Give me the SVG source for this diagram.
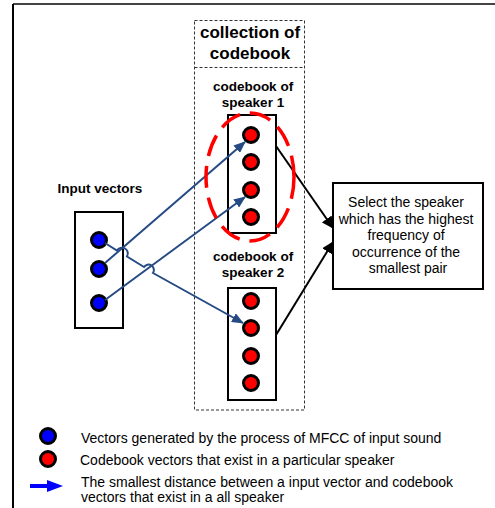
<svg xmlns="http://www.w3.org/2000/svg" width="495" height="508" viewBox="0 0 495 508">
<defs>
<style>
.bold{font-family:"Liberation Sans",Arial,sans-serif;font-weight:bold;fill:#000}
.reg{font-family:"Liberation Sans",Arial,sans-serif;fill:#000}
.box{fill:#fff;stroke:#000;stroke-width:2}
.red{fill:#ff0000;stroke:#000;stroke-width:3}
.blue{fill:#0000ff;stroke:#000;stroke-width:3}
.conn{fill:none;stroke:#254a84;stroke-width:2}
.blk{fill:none;stroke:#000;stroke-width:2}
</style>
<marker id="bah" viewBox="0 0 12 10" refX="11" refY="5" markerWidth="12" markerHeight="10" markerUnits="userSpaceOnUse" orient="auto">
<path d="M0,0 L12,5 L0,10 Z" fill="#254a84"/>
</marker>
<marker id="kah" viewBox="0 0 12 12" refX="11" refY="6" markerWidth="12" markerHeight="12" markerUnits="userSpaceOnUse" orient="auto">
<path d="M0,0 L12,6 L0,12 Z" fill="#000"/>
</marker>
</defs>
<rect width="495" height="508" fill="#fff"/>
<g id="frame">
<line x1="13" y1="4" x2="495" y2="4" stroke="#444" stroke-width="2"/>
<line x1="13" y1="4" x2="13" y2="508" stroke="#000" stroke-width="2"/>
</g>
<g id="collection">
<rect x="194.5" y="20.5" width="110" height="389.5" fill="none" stroke="#333" stroke-width="1" stroke-dasharray="3,2"/>
<line x1="194.5" y1="67.5" x2="304.5" y2="67.5" stroke="#333" stroke-width="1" stroke-dasharray="3,2"/>
<text class="bold" x="250" y="38" font-size="17" text-anchor="middle">collection of</text>
<text class="bold" x="250" y="59" font-size="17" text-anchor="middle">codebook</text>
</g>
<g id="speaker1">
<text class="bold" x="253" y="91" font-size="13.5" text-anchor="middle">codebook of</text>
<text class="bold" x="253" y="107" font-size="13.5" text-anchor="middle">speaker 1</text>
<rect class="box" x="228" y="115" width="48" height="118"/>
<circle class="red" cx="251" cy="135" r="7.5"/>
<circle class="red" cx="251" cy="162" r="7.5"/>
<circle class="red" cx="251" cy="190" r="7.5"/>
<circle class="red" cx="251" cy="217" r="7.5"/>
</g>
<g id="speaker2">
<text class="bold" x="253" y="261" font-size="13.5" text-anchor="middle">codebook of</text>
<text class="bold" x="253" y="277" font-size="13.5" text-anchor="middle">speaker 2</text>
<rect class="box" x="228" y="288" width="48" height="112"/>
<circle class="red" cx="251" cy="301" r="7.5"/>
<circle class="red" cx="251" cy="328" r="7.5"/>
<circle class="red" cx="251" cy="356" r="7.5"/>
<circle class="red" cx="251" cy="383" r="7.5"/>
</g>
<g id="input">
<text class="bold" x="100" y="193" font-size="13.5" text-anchor="middle">Input vectors</text>
<rect class="box" x="75" y="212" width="48" height="116"/>
<circle class="blue" cx="99" cy="240" r="7.5"/>
<circle class="blue" cx="99" cy="269" r="7.5"/>
<circle class="blue" cx="99" cy="303" r="7.5"/>
</g>
<g id="result">
<rect class="box" x="333" y="183" width="150" height="106"/>
<text class="reg" font-size="14" text-anchor="middle">
<tspan x="408" y="207">Select the speaker</tspan>
<tspan x="408" y="223.5">which has the highest</tspan>
<tspan x="408" y="240">frequency of</tspan>
<tspan x="408" y="256.5">occurrence of the</tspan>
<tspan x="408" y="273">smallest pair</tspan>
</text>
</g>
<g id="connectors">
<path class="conn" d="M105,263 L245,142" marker-end="url(#bah)"/>
<path class="conn" d="M105,300 L245,197" marker-end="url(#bah)"/>
<path class="conn" d="M105,243 L117,250.5 A5,5 0 0 1 127,256.5 L144,267 A5,5 0 0 1 153,273 L243,323" marker-end="url(#bah)"/>
<path class="blk" d="M276,146 L333,228" marker-end="url(#kah)"/>
<path class="blk" d="M276,335 L333,242" marker-end="url(#kah)"/>
<ellipse cx="250" cy="177" rx="44" ry="64" fill="none" stroke="#ff0000" stroke-width="3.5" stroke-dasharray="22,10"/>
</g>
<g id="legend">
<circle class="blue" cx="48" cy="436" r="7.5"/>
<circle class="red" cx="48" cy="459" r="7.5"/>
<path d="M30,486 L49,486" stroke="#0000ff" stroke-width="4"/>
<path d="M47,480 L63,486 L47,492 Z" fill="#0000ff"/>
<text class="reg" x="81" y="443" font-size="14">Vectors generated by the process of MFCC of input sound</text>
<text class="reg" x="80" y="465" font-size="14">Codebook vectors that exist in a particular speaker</text>
<text class="reg" x="81" y="487" font-size="14">The smallest distance between a input vector and codebook</text>
<text class="reg" x="81" y="502" font-size="14">vectors that exist in a all speaker</text>
</g>
</svg>
